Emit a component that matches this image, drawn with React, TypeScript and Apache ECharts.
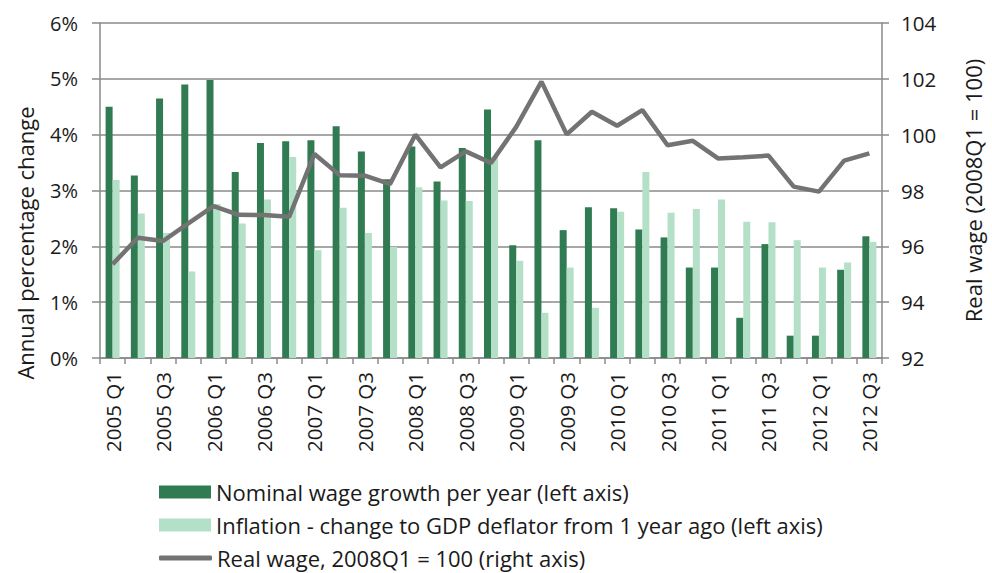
import React, { useEffect, useRef } from "react";
import * as echarts from "echarts";

const categories = [
  "2005 Q1", "2005 Q2", "2005 Q3", "2005 Q4",
  "2006 Q1", "2006 Q2", "2006 Q3", "2006 Q4",
  "2007 Q1", "2007 Q2", "2007 Q3", "2007 Q4",
  "2008 Q1", "2008 Q2", "2008 Q3", "2008 Q4",
  "2009 Q1", "2009 Q2", "2009 Q3", "2009 Q4",
  "2010 Q1", "2010 Q2", "2010 Q3", "2010 Q4",
  "2011 Q1", "2011 Q2", "2011 Q3", "2011 Q4",
  "2012 Q1", "2012 Q2", "2012 Q3",
];

const nominalWage = [
  4.5, 3.27, 4.65, 4.9, 4.98, 3.33, 3.85, 3.88, 3.9, 4.15, 3.7, 3.2,
  3.79, 3.16, 3.76, 4.45, 2.02, 3.9, 2.29, 2.7, 2.68, 2.3, 2.16, 1.62,
  1.62, 0.72, 2.04, 0.4, 0.4, 1.58, 2.18,
];

const inflation = [
  3.19, 2.59, 2.24, 1.55, 2.76, 2.41, 2.84, 3.6, 1.93, 2.69, 2.24, 1.99,
  3.06, 2.82, 2.81, 3.6, 1.74, 0.81, 1.62, 0.9, 2.62, 3.33, 2.6, 2.67,
  2.84, 2.44, 2.43, 2.11, 1.62, 1.71, 2.08,
];

const realWage = [
  95.36, 96.31, 96.19, 96.82, 97.44, 97.13, 97.12, 97.06, 99.31, 98.55, 98.53, 98.23,
  100.0, 98.83, 99.4, 98.99, 100.28, 101.9, 100.01, 100.82, 100.32, 100.88, 99.62, 99.78,
  99.15, 99.19, 99.25, 98.14, 97.96, 99.07, 99.33,
];

const seriesNames = [
  "Nominal wage growth per year (left axis)",
  "Inflation - change to GDP deflator from 1 year ago (left axis)",
  "Real wage, 2008Q1 = 100 (right axis)",
];

const FONT = "Open Sans";
const TXT = "#1a1a1a";
const AXIS = "#8a8a8a";
const DARK = "#307b52";
const LIGHT = "#b3e0c7";
const GRAY = "#737373";

const legendText = { fontFamily: FONT, fontSize: 22, color: TXT, lineHeight: 24 };

export default function App() {
  const ref = useRef<HTMLDivElement>(null);
  useEffect(() => {
    if (!ref.current) return;
    const chart = echarts.init(ref.current, undefined, { renderer: "svg" });
    chart.setOption({
      animation: false,
      textStyle: { fontFamily: FONT },
      grid: { left: 100, right: 99, top: 23, bottom: 215, containLabel: false },
      legend: [
        {
          left: 159,
          top: 480,
          padding: 0,
          itemWidth: 52,
          itemHeight: 13,
          icon: "rect",
          data: [seriesNames[0]],
          textStyle: legendText,
        },
        {
          left: 159,
          top: 513,
          padding: 0,
          itemWidth: 52,
          itemHeight: 13,
          icon: "rect",
          data: [seriesNames[1]],
          textStyle: legendText,
        },
        {
          left: 159,
          top: 546,
          padding: 0,
          itemWidth: 53,
          itemHeight: 5,
          icon: "roundRect",
          data: [seriesNames[2]],
          itemStyle: { color: GRAY },
          textStyle: legendText,
        },
      ],
      graphic: [
        {
          type: "text",
          x: 25,
          y: 243,
          rotation: Math.PI / 2,
          style: {
            text: "Annual percentage change",
            font: `22px "${FONT}"`,
            fill: TXT,
            textAlign: "center",
            textVerticalAlign: "middle",
          },
        },
      ],
      xAxis: {
        type: "category",
        data: categories,
        boundaryGap: true,
        axisLine: { lineStyle: { color: AXIS, width: 1.5 } },
        axisTick: { show: true, interval: 0, length: 6, lineStyle: { color: AXIS, width: 1.5 } },
        axisLabel: {
          interval: 1,
          rotate: 90,
          margin: 14,
          fontSize: 20.5,
          color: TXT,
          fontFamily: FONT,
        },
      },
      yAxis: [
        {
          type: "value",
          min: 0,
          max: 6,
          interval: 1,
          axisLine: { show: true, lineStyle: { color: AXIS, width: 1.5 } },
          axisTick: { show: true, length: 8, lineStyle: { color: AXIS, width: 1.5 } },
          splitLine: { show: true, lineStyle: { color: AXIS, width: 1.5 } },
          axisLabel: { formatter: "{value}%", fontSize: 20, color: TXT, margin: 22, fontFamily: FONT },
        },
        {
          type: "value",
          position: "right",
          min: 92,
          max: 104,
          interval: 2,
          name: "Real wage (2008Q1 = 100)",
          nameLocation: "middle",
          nameGap: 80,
          nameRotate: 90,
          nameTextStyle: { fontSize: 22, color: TXT, fontFamily: FONT },
          axisLine: { show: true, lineStyle: { color: AXIS, width: 1.5 } },
          axisTick: { show: true, length: 7, lineStyle: { color: AXIS, width: 1.5 } },
          splitLine: { show: false },
          axisLabel: { fontSize: 20.5, color: TXT, margin: 19, fontFamily: FONT },
        },
      ],
      series: [
        {
          name: seriesNames[0],
          type: "bar",
          data: nominalWage,
          barWidth: 7,
          barGap: "0%",
          itemStyle: { color: DARK },
        },
        {
          name: seriesNames[1],
          type: "bar",
          data: inflation,
          barWidth: 7,
          barGap: "0%",
          itemStyle: { color: LIGHT },
        },
        {
          name: seriesNames[2],
          type: "line",
          yAxisIndex: 1,
          data: realWage,
          symbol: "none",
          lineStyle: { color: GRAY, width: 4.5 },
          itemStyle: { color: GRAY },
        },
      ],
    });
    return () => chart.dispose();
  }, []);
  return <div ref={ref} style={{ width: 992, height: 573, position: "absolute", left: 0, top: 0 }} />;
}
